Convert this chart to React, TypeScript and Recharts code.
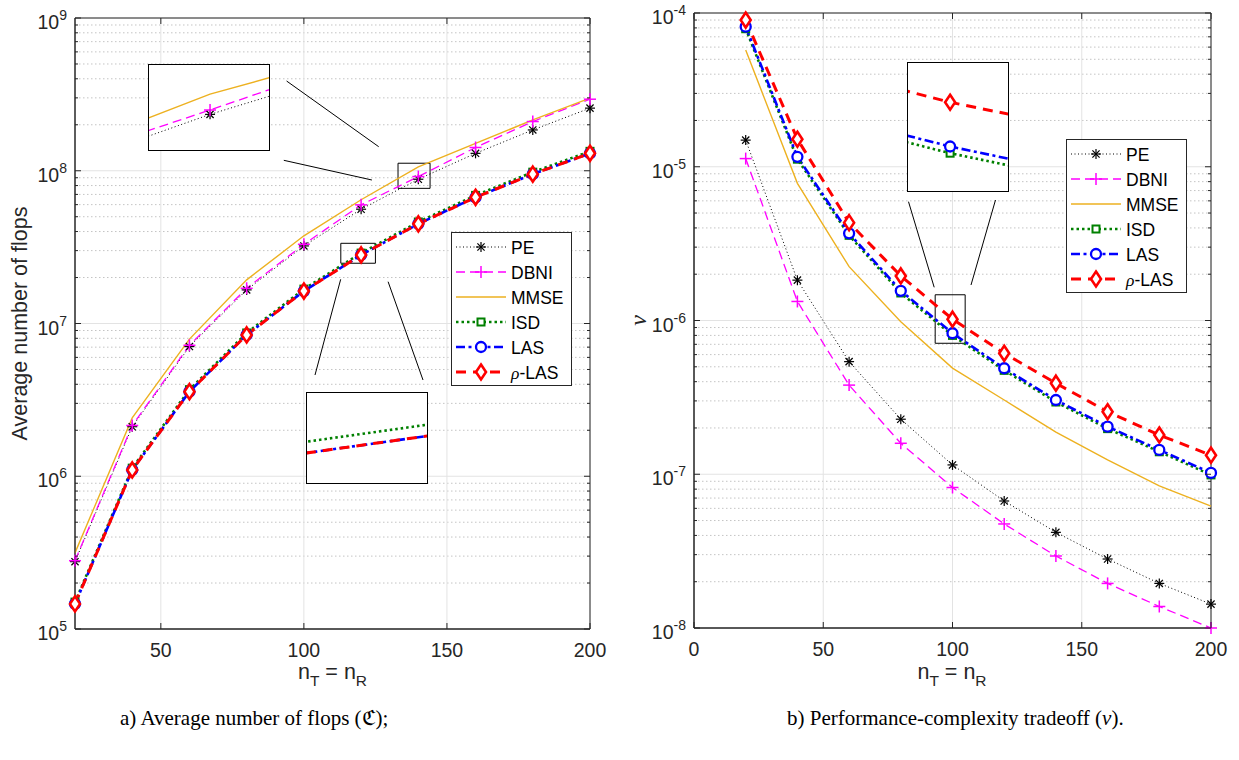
import React from "react";
import { LineChart, Line, XAxis, YAxis, CartesianGrid, ReferenceArea } from "recharts";

// n_T = n_R
const nTR = [20, 40, 60, 80, 100, 120, 140, 160, 180, 200];

// a) average number of flops
const flopsPE = [2.76e5, 2.11e6, 7.06e6, 1.66e7, 3.22e7, 5.6e7, 8.8e7, 1.3e8, 1.85e8, 2.57e8];
const flopsDBNI = [2.8e5, 2.15e6, 7.2e6, 1.7e7, 3.3e7, 5.98e7, 9.16e7, 1.42e8, 2.1e8, 2.94e8];
const flopsMMSE = [3.15e5, 2.41e6, 7.9e6, 1.93e7, 3.75e7, 6.46e7, 1.06e8, 1.51e8, 2.15e8, 2.99e8];
const flopsISD = [1.5e5, 1.13e6, 3.69e6, 8.67e6, 1.68e7, 2.89e7, 4.62e7, 6.9e7, 9.79e7, 1.34e8];
const flopsLAS = [1.46e5, 1.1e6, 3.58e6, 8.42e6, 1.63e7, 2.81e7, 4.49e7, 6.7e7, 9.5e7, 1.3e8];
const flopsRhoLAS = [1.46e5, 1.1e6, 3.58e6, 8.42e6, 1.63e7, 2.81e7, 4.49e7, 6.7e7, 9.5e7, 1.3e8];

// b) performance-complexity tradeoff
const tradePE = [1.49e-5, 1.83e-6, 5.4e-7, 2.28e-7, 1.15e-7, 6.7e-8, 4.19e-8, 2.81e-8, 1.95e-8, 1.43e-8];
const tradeDBNI = [1.13e-5, 1.33e-6, 3.8e-7, 1.59e-7, 8.2e-8, 4.75e-8, 2.94e-8, 1.95e-8, 1.38e-8, 1.0e-8];
const tradeMMSE = [5.74e-5, 7.8e-6, 2.24e-6, 9.8e-7, 4.9e-7, 3.04e-7, 1.88e-7, 1.24e-7, 8.4e-8, 6.2e-8];
const tradeISD = [7.9e-5, 1.12e-5, 3.58e-6, 1.51e-6, 8.0e-7, 4.74e-7, 2.95e-7, 1.98e-7, 1.4e-7, 9.9e-8];
const tradeLAS = [8.15e-5, 1.16e-5, 3.69e-6, 1.56e-6, 8.26e-7, 4.89e-7, 3.04e-7, 2.04e-7, 1.44e-7, 1.02e-7];
const tradeRhoLAS = [9.0e-5, 1.51e-5, 4.33e-6, 1.95e-6, 1.02e-6, 6.12e-7, 3.91e-7, 2.55e-7, 1.8e-7, 1.33e-7];

// ticks
const leftXTicks = [50, 100, 150, 200];
const rightXTicks = [0, 50, 100, 150, 200];
const leftDecades = [1e5, 1e6, 1e7, 1e8, 1e9];
const rightDecades = [1e-8, 1e-7, 1e-6, 1e-5, 1e-4];
const mantissas = [2, 3, 4, 5, 6, 7, 8, 9];
const minorsOf = (dec: number[]) => dec.slice(0, -1).flatMap((d) => mantissas.map((m) => m * d));

const SANS = '"Liberation Sans", Arial, Helvetica, sans-serif';
const SERIF = '"Liberation Serif", "Times New Roman", serif';
const INK = "#262626";

const series = [
  { key: "pe", name: "PE", color: "#000000", width: 1, dash: "1 2.5", marker: "star" },
  { key: "dbni", name: "DBNI", color: "#ff00ff", width: 1.3, dash: "9 5", marker: "plus" },
  { key: "mmse", name: "MMSE", color: "#edb120", width: 1.4, dash: undefined, marker: "" },
  { key: "isd", name: "ISD", color: "#008000", width: 2.6, dash: "2.5 3", marker: "square" },
  { key: "las", name: "LAS", color: "#0000ff", width: 2.6, dash: "9 3.5 3 3.5", marker: "circle" },
  { key: "rho", name: "ρ-LAS", color: "#ff0000", width: 3, dash: "10 7", marker: "diamond" },
];

const flopsRows = nTR.map((n, i) => ({
  n,
  pe: flopsPE[i],
  dbni: flopsDBNI[i],
  mmse: flopsMMSE[i],
  isd: flopsISD[i],
  las: flopsLAS[i],
  rho: flopsRhoLAS[i],
}));

const tradeRows = nTR.map((n, i) => ({
  n,
  pe: tradePE[i],
  dbni: tradeDBNI[i],
  mmse: tradeMMSE[i],
  isd: tradeISD[i],
  las: tradeLAS[i],
  rho: tradeRhoLAS[i],
}));

function Marker({ shape, cx, cy, color }: any) {
  if (cx == null || cy == null) return <g />;
  if (shape === "star") {
    const r = 5;
    const d = r * 0.72;
    return (
      <g stroke={color} strokeWidth={1.2}>
        <line x1={cx - r} x2={cx + r} y1={cy} y2={cy} />
        <line x1={cx} x2={cx} y1={cy - r} y2={cy + r} />
        <line x1={cx - d} x2={cx + d} y1={cy - d} y2={cy + d} />
        <line x1={cx - d} x2={cx + d} y1={cy + d} y2={cy - d} />
      </g>
    );
  }
  if (shape === "plus") {
    const r = 6;
    return (
      <g stroke={color} strokeWidth={1.5}>
        <line x1={cx - r} x2={cx + r} y1={cy} y2={cy} />
        <line x1={cx} x2={cx} y1={cy - r} y2={cy + r} />
      </g>
    );
  }
  if (shape === "square") {
    return <rect x={cx - 3.5} y={cy - 3.5} width={7} height={7} fill="#fff" stroke={color} strokeWidth={2} />;
  }
  if (shape === "circle") {
    return <circle cx={cx} cy={cy} r={5} fill="#fff" stroke={color} strokeWidth={2.3} />;
  }
  if (shape === "diamond") {
    return (
      <polygon
        points={`${cx},${cy - 7.5} ${cx + 5},${cy} ${cx},${cy + 7.5} ${cx - 5},${cy}`}
        fill="#fff"
        stroke={color}
        strokeWidth={2.6}
      />
    );
  }
  return <g />;
}

const makeXTick = (top: number, bottom: number) => (props: any) => {
  const { x, payload } = props;
  return (
    <g>
      <line x1={x} x2={x} y1={bottom} y2={bottom - 6} stroke={INK} />
      <line x1={x} x2={x} y1={top} y2={top + 6} stroke={INK} />
      <text x={x} y={bottom + 28} textAnchor="middle" fontSize={19.5} fill={INK} fontFamily={SANS}>
        {payload.value}
      </text>
    </g>
  );
};

const makeYTick = (left: number, right: number, majors: number[]) => (props: any) => {
  const { y, payload } = props;
  const v = payload.value;
  const major = majors.includes(v);
  const len = major ? 6 : 3;
  const exp = Math.round(Math.log10(v));
  return (
    <g>
      <line x1={left} x2={left + len} y1={y} y2={y} stroke={INK} />
      <line x1={right - len} x2={right} y1={y} y2={y} stroke={INK} />
      {major && (
        <text x={left - 8} y={y + 11} textAnchor="end" fontSize={19.5} fill={INK} fontFamily={SANS}>
          10
          <tspan dy={-9} fontSize={14}>
            {exp}
          </tspan>
        </text>
      )}
    </g>
  );
};

function seriesLines(showDots: boolean) {
  return series.map((s) => (
    <Line
      key={s.key}
      dataKey={s.key}
      type="linear"
      stroke={s.color}
      strokeWidth={s.width}
      strokeDasharray={s.dash}
      isAnimationActive={false}
      dot={
        showDots && s.marker
          ? (p: any) => <Marker key={`${s.key}-${p.index}`} shape={s.marker} cx={p.cx} cy={p.cy} color={s.color} />
          : false
      }
      activeDot={false}
    />
  ));
}

function Panel(props: any) {
  const { data, width, height, margin, xDomain, xTicks, yDomain, majors, areas } = props;
  const plotLeft = margin.left + 60;
  const plotRight = width - margin.right;
  const plotTop = margin.top;
  const plotBottom = height - margin.bottom - 40;
  const minors = minorsOf(majors);
  return (
    <LineChart width={width} height={height} data={data} margin={margin}>
      <CartesianGrid
        horizontalValues={minors}
        vertical={false}
        stroke="#c4c4c4"
        strokeDasharray="1.5 2.5"
      />
      <CartesianGrid horizontalValues={majors} verticalValues={xTicks} stroke="#e3e3e3" />
      <XAxis
        dataKey="n"
        type="number"
        domain={xDomain}
        ticks={xTicks}
        interval={0}
        height={40}
        stroke={INK}
        tickLine={false}
        tick={makeXTick(plotTop, plotBottom)}
      />
      <YAxis
        type="number"
        scale="log"
        domain={yDomain}
        ticks={[...majors, ...minors]}
        interval={0}
        width={60}
        stroke={INK}
        tickLine={false}
        tick={makeYTick(plotLeft, plotRight, majors)}
      />
      {areas.map((a: any, i: number) => (
        <ReferenceArea key={i} x1={a.x1} x2={a.x2} y1={a.y1} y2={a.y2} fill="none" stroke="#000" strokeWidth={1} />
      ))}
      {seriesLines(true)}
      <ReferenceArea
        x1={xDomain[0]}
        x2={xDomain[1]}
        y1={yDomain[0]}
        y2={yDomain[1]}
        fill="none"
        stroke={INK}
        strokeWidth={1}
      />
    </LineChart>
  );
}

function Inset(props: any) {
  const { data, left, top, width, height, xDomain, yDomain, showDots } = props;
  return (
    <div
      style={{
        position: "absolute",
        left,
        top,
        width,
        height,
        background: "#fff",
        border: "1px solid #000",
        boxSizing: "border-box",
      }}
    >
      <LineChart width={width - 2} height={height - 2} data={data} margin={{ top: 0, right: 0, bottom: 0, left: 0 }}>
        <XAxis dataKey="n" type="number" domain={xDomain} allowDataOverflow hide />
        <YAxis type="number" scale="log" domain={yDomain} allowDataOverflow hide />
        {seriesLines(showDots)}
      </LineChart>
    </div>
  );
}

function LegendBox({ left, top }: any) {
  const w = 121;
  const h = 154;
  return (
    <div
      style={{
        position: "absolute",
        left,
        top,
        width: w,
        height: h,
        background: "#fff",
        border: `1px solid ${INK}`,
        boxSizing: "border-box",
      }}
    >
      <svg width={w - 2} height={h - 2}>
        {series.map((s, i) => {
          const y = 14 + i * 25;
          return (
            <g key={s.key}>
              <line x1={4} x2={54} y1={y} y2={y} stroke={s.color} strokeWidth={s.width} strokeDasharray={s.dash} />
              <Marker shape={s.marker} cx={29} cy={y} color={s.color} />
              <text x={59} y={y + 6.5} fontSize={17.5} fontFamily={SANS} fill="#000">
                {s.key === "rho" ? (
                  <>
                    <tspan fontFamily={SERIF} fontStyle="italic">
                      ρ
                    </tspan>
                    -LAS
                  </>
                ) : (
                  s.name
                )}
              </text>
            </g>
          );
        })}
      </svg>
    </div>
  );
}

// zoom connector lines (page pixels)
const connectors = [
  [286.6, 81, 378.7, 146.7],
  [283.8, 160.3, 371.9, 180],
  [340.7, 279.3, 315, 375],
  [388.1, 281.7, 423, 380],
  [908.5, 201.7, 934.2, 287.3],
  [995.5, 200, 971, 285],
];

function XTitle({ x, y }: any) {
  return (
    <text x={x} y={y} textAnchor="middle" fontSize={21.5} fontFamily={SANS} fill={INK}>
      n
      <tspan fontSize={15.5} dy={7}>
        T
      </tspan>
      <tspan dy={-7}> = n</tspan>
      <tspan fontSize={15.5} dy={7}>
        R
      </tspan>
    </text>
  );
}

export default function App() {
  return (
    <div
      style={{
        position: "absolute",
        left: 0,
        top: 0,
        width: 1239,
        height: 760,
        background: "#fff",
        fontFamily: SANS,
        overflow: "hidden",
      }}
    >
      <div style={{ position: "absolute", left: 0, top: 0 }}>
        <Panel
          data={flopsRows}
          width={620}
          height={700}
          margin={{ top: 18, right: 30, bottom: 31, left: 15 }}
          xDomain={[20, 200]}
          xTicks={leftXTicks}
          yDomain={[1e5, 1e9]}
          majors={leftDecades}
          areas={[
            { x1: 132.9, x2: 144.1, y1: 7.67e7, y2: 1.12e8 },
            { x1: 112.9, x2: 125, y1: 2.48e7, y2: 3.35e7 },
          ]}
        />
      </div>
      <div style={{ position: "absolute", left: 620, top: 0 }}>
        <Panel
          data={tradeRows}
          width={620}
          height={700}
          margin={{ top: 13, right: 29, bottom: 32, left: 14 }}
          xDomain={[0, 200]}
          xTicks={rightXTicks}
          yDomain={[1e-8, 1e-4]}
          majors={rightDecades}
          areas={[{ x1: 93.3, x2: 104.9, y1: 7.11e-7, y2: 1.47e-6 }]}
        />
      </div>

      <Inset data={flopsRows} left={148} top={64} width={122} height={87} xDomain={[131.2, 148.5]} yDomain={[6.34e7, 1.386e8]} showDots />
      <Inset data={flopsRows} left={306} top={392} width={122} height={92} xDomain={[125, 126.8]} yDomain={[2.93e7, 3.67e7]} showDots={false} />
      <Inset data={tradeRows} left={907} top={62} width={102} height={130} xDomain={[98.4, 102.2]} yDomain={[6.68e-7, 1.23e-6]} showDots />

      <LegendBox left={451} top={232} />
      <LegendBox left={1066} top={139} />

      <svg width={1239} height={760} style={{ position: "absolute", left: 0, top: 0, pointerEvents: "none" }}>
        {connectors.map((c, i) => (
          <line key={i} x1={c[0]} y1={c[1]} x2={c[2]} y2={c[3]} stroke="#000" strokeWidth={1} />
        ))}
        <text
          transform="translate(19,323.5) rotate(-90)"
          textAnchor="middle"
          dy="0.35em"
          fontSize={21.5}
          fontFamily={SANS}
          fill={INK}
        >
          Average number of flops
        </text>
        <text
          transform="translate(638,320.5) rotate(-90)"
          textAnchor="middle"
          dy="0.35em"
          fontSize={24}
          fontFamily={SERIF}
          fontStyle="italic"
          fill={INK}
        >
          ν
        </text>
        <XTitle x={332.5} y={679} />
        <XTitle x={952} y={679} />
        <text x={120} y={725} fontSize={21} fontFamily={SERIF} fill="#000">
          a) Average number of flops (ℭ);
        </text>
        <text x={787} y={725} fontSize={21} fontFamily={SERIF} fill="#000">
          b) Performance-complexity tradeoff (<tspan fontStyle="italic">ν</tspan>).
        </text>
      </svg>
    </div>
  );
}
